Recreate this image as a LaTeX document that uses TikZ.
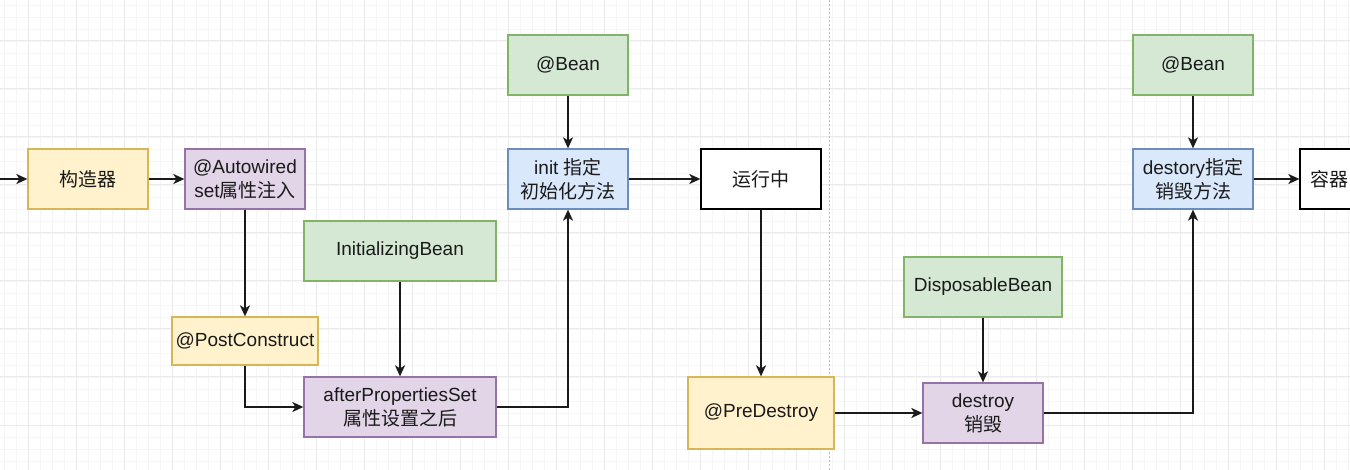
\documentclass[tikz,border=0pt]{standalone}
\usepackage{fontspec}
\setmainfont{Liberation Sans}
\newfontfamily\cjk{Noto Sans CJK SC}
\usetikzlibrary{arrows.meta}
\definecolor{yelF}{HTML}{FFF2CC}
\definecolor{yelD}{HTML}{D6B656}
\definecolor{purF}{HTML}{E1D5E7}
\definecolor{purD}{HTML}{9673A6}
\definecolor{grnF}{HTML}{D5E8D4}
\definecolor{grnD}{HTML}{82B366}
\definecolor{bluF}{HTML}{DAE8FC}
\definecolor{bluD}{HTML}{6C8EBF}
\definecolor{gridMinor}{HTML}{F6F6F6}
\definecolor{gridMajor}{HTML}{EBEBEB}
\definecolor{txt}{HTML}{1A1A1A}
\begin{document}
\begin{tikzpicture}[x=1pt,y=-1pt,
  box/.style={draw, line width=1.3pt, align=center, inner sep=0pt, text=txt,
    font=\fontsize{19}{24}\selectfont, minimum width=120pt, minimum height=60pt},
  yel/.style={box, fill=yelF, draw=yelD},
  pur/.style={box, fill=purF, draw=purD},
  grn/.style={box, fill=grnF, draw=grnD},
  blu/.style={box, fill=bluF, draw=bluD},
  wht/.style={box, fill=white, draw=black},
  arr/.style={line width=1.6pt, draw=txt, -{Stealth[length=11pt,width=10pt,inset=3pt]}},
  minorline/.style={draw=gridMinor, line width=0.8pt},
  majorline/.style={draw=gridMajor, line width=1pt},
  sep/.style={draw=black!25, line width=1pt, dash pattern=on 2pt off 2pt}
]
\useasboundingbox (0,0) rectangle (1350,470);
\clip (0,0) rectangle (1350,470);
\fill[white] (0,0) rectangle (1350,470);
% background grid
\foreach \x in {4,16,...,1348} \draw[minorline] (\x,0) -- (\x,470);
\foreach \y in {5,17,...,469} \draw[minorline] (0,\y) -- (1350,\y);
\foreach \x in {28,76,...,1348} \draw[majorline] (\x,0) -- (\x,470);
\foreach \y in {41,89,...,469} \draw[majorline] (0,\y) -- (1350,\y);
% separator
\draw[sep] (829,0) -- (829,470);

% nodes
\node[yel] (ctor) at (88,179) {{\cjk 构造器}};
\node[pur] (autow) at (245,179) {@Autowired\\set{\cjk 属性注入}};
\node[yel, minimum width=146pt, minimum height=48pt] (postc) at (245,341) {@PostConstruct};
\node[grn, minimum width=192pt] (initb) at (400,251) {InitializingBean};
\node[pur, minimum width=192pt] (afterp) at (400,407) {afterPropertiesSet\\{\cjk 属性设置之后}};
\node[grn] (bean1) at (568,65) {@Bean};
\node[blu] (init) at (568,179) {init {\cjk 指定}\\{\cjk 初始化方法}};
\node[wht] (run) at (761,179) {{\cjk 运行中}};
\node[yel, minimum width=146pt, minimum height=72pt] (predes) at (761,413) {@PreDestroy};
\node[grn, minimum width=158pt] (dispb) at (983,287) {DisposableBean};
\node[pur] (destroy) at (983,413) {destroy\\{\cjk 销毁}};
\node[grn] (bean2) at (1193,65) {@Bean};
\node[blu] (destm) at (1193,179) {destory{\cjk 指定}\\{\cjk 销毁方法}};
\node[wht, text width=100pt, align=left, inner xsep=10pt] (cont) at (1360,179) {{\cjk 容器}};

% connectors
\coordinate (start) at (0,179);
\draw[arr] (start) -- (ctor);
\draw[arr] (ctor) -- (autow);
\draw[arr] (autow) -- (postc);
\draw[arr] (postc.south) |- (afterp.west);
\draw[arr] (initb) -- (afterp);
\draw[arr] (afterp.east) -| (init.south);
\draw[arr] (bean1) -- (init);
\draw[arr] (init) -- (run);
\draw[arr] (run) -- (predes);
\draw[arr] (predes) -- (destroy);
\draw[arr] (dispb) -- (destroy);
\draw[arr] (destroy.east) -| (destm.south);
\draw[arr] (bean2) -- (destm);
\draw[arr] (destm) -- (cont);
\end{tikzpicture}
\end{document}
